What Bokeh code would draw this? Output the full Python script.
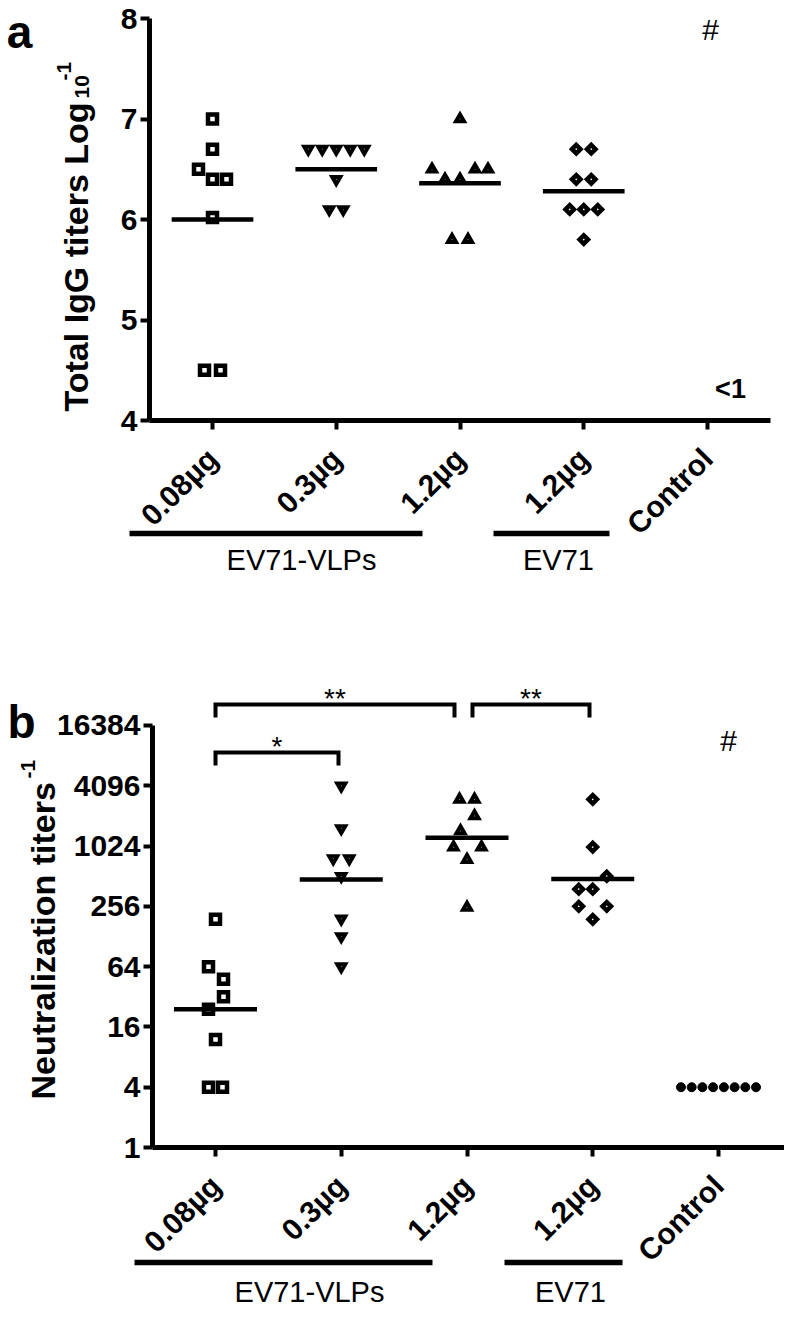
import math
from bokeh.plotting import figure
from bokeh.models import FixedTicker, PrintfTickFormatter, Label
from bokeh.layouts import column
from bokeh.embed import file_html
from bokeh.resources import INLINE

# ---------------- data ----------------
tick_labels = ["0.08\u00b5g", "0.3\u00b5g", "1.2\u00b5g", "1.2\u00b5g", "Control"]
group_names = ["EV71-VLPs", "EV71"]

# Panel a: total IgG titers (log10)
igg_g1 = [7.0, 6.7, 6.5, 6.4, 6.4, 6.02, 4.5, 4.5]
igg_g2 = [6.7, 6.7, 6.7, 6.7, 6.7, 6.4, 6.1, 6.1]
igg_g3 = [7.0, 6.5, 6.5, 6.5, 6.4, 6.4, 5.8, 5.8]
igg_g4 = [6.7, 6.7, 6.4, 6.4, 6.1, 6.1, 6.1, 5.8]
igg_means = [6.0, 6.5, 6.36, 6.28]
igg_yticks = [4, 5, 6, 7, 8]

# Panel b: neutralization titers
nt_g1 = [190, 64, 48, 32, 24, 12, 4, 4]
nt_g2 = [4096, 1536, 768, 768, 512, 192, 128, 64]
nt_g3 = [3000, 3000, 2048, 1450, 1000, 1000, 750, 250]
nt_g4 = [3000, 1000, 512, 380, 380, 256, 256, 190]
nt_ctrl = [4, 4, 4, 4, 4, 4, 4, 4]
nt_means = [24, 475, 1240, 480]
nt_yticks = [1, 4, 16, 64, 256, 1024, 4096, 16384]

# scatter layout offsets (pixels) of the points inside each column
a_dx1 = [0, 0, -14, 0, 14, 0, -8, 8]
a_dx2 = [-28, -14, 0, 14, 28, 0, -7, 7]
a_dx3 = [0, -28, 15, 28, -15, 0, -8, 8]
a_dx4 = [-7.5, 7.5, -7.5, 7.5, -14, 0, 14, 0]
b_dx1 = [0, -7, 8, 8, -7, 0, -7, 7]
b_dx2 = [0, 0, -8, 8, 0, 0, 0, 0]
b_dx3 = [-7.5, 7.5, 7.5, -6.5, -13.5, 14.5, 0, 0]
b_dx4 = [0, 0, 14, -14, 0, -14, 14, 0]
b_dxc = [-37.5, -26.8, -16.1, -5.4, 5.4, 16.1, 26.8, 37.5]

FONT = "Liberation Sans"

# page-pixel -> data helpers (for annotations / layout only)
PXA = 123.75
PXB = 125.75
def xa(px): return 1 + (px - 220) / PXA
def ya(py): return 4 + (428 - py) / 100.5
def xb(px): return 1 + (px - 223) / PXB
def yb(py): return 2 ** ((1155 - py) / 30.143)


def style_axes(p, xfix, yfix, xbounds, ybounds, yticks):
    xa_ = p.xaxis[0]
    ya_ = p.yaxis[0]
    for ax in (xa_, ya_):
        ax.axis_line_width = 5
        ax.axis_line_color = "black"
        ax.major_tick_line_width = 4
        ax.major_tick_line_color = "black"
        ax.major_tick_out = 9
        ax.major_tick_in = 0
        ax.minor_tick_line_color = None
        ax.major_label_text_font = FONT
        ax.major_label_text_font_style = "bold"
        ax.major_label_text_color = "black"
    xa_.ticker = FixedTicker(ticks=[1, 2, 3, 4, 5])
    xa_.major_label_overrides = {i + 1: t for i, t in enumerate(tick_labels)}
    xa_.major_label_orientation = math.pi / 4
    xa_.major_label_text_font_size = "30px"
    xa_.major_label_standoff = 24
    xa_.fixed_location = xfix
    xa_.bounds = xbounds
    ya_.ticker = FixedTicker(ticks=yticks)
    ya_.major_label_text_font_size = "30px"
    ya_.major_label_standoff = 3
    ya_.fixed_location = yfix
    ya_.bounds = ybounds
    p.grid.visible = False
    p.outline_line_color = None


def add_label(p, x, y, text, size, bold=False, angle=0.0, align="center", baseline="middle"):
    p.add_layout(Label(x=x, y=y, text=text, text_font=FONT, text_font_size=size,
                       text_font_style="bold" if bold else "normal", text_color="black",
                       angle=angle, text_align=align, text_baseline=baseline))


def scatter_group(p, center, values, dx, pxu, marker, size, lw, fill="white", angle=0.0,
                  join="miter"):
    xs = [center + d / pxu for d in dx]
    p.scatter(xs, values, marker=marker, size=size, fill_color=fill, line_color="black",
              line_width=lw, angle=angle, line_join=join)


# ---------------- panel a ----------------
pa = figure(width=784, height=602, x_range=(xa(8), xa(792)), y_range=(ya(610), ya(8)),
            output_backend="svg", toolbar_location=None,
            min_border_left=0, min_border_right=0, min_border_top=0, min_border_bottom=0)
style_axes(pa, 4, xa(157), (xa(157), xa(778)), (4, 8), igg_yticks)

scatter_group(pa, 1, igg_g1, a_dx1, PXA, "square", 9, 4.5)
scatter_group(pa, 2, igg_g2, a_dx2, PXA, "inverted_triangle", 8, 4)
scatter_group(pa, 3, igg_g3, a_dx3, PXA, "triangle", 8, 4)
scatter_group(pa, 4, igg_g4, a_dx4, PXA, "square", 6, 4.5, angle=math.pi / 4)
pa.segment(x0=[c - 0.33 for c in (1, 2, 3, 4)], x1=[c + 0.33 for c in (1, 2, 3, 4)],
           y0=igg_means, y1=igg_means, line_width=4.5, line_color="black")

pa.segment(x0=[xa(137), xa(501)], x1=[xa(430), xa(617)], y0=[ya(541)] * 2, y1=[ya(541)] * 2,
           line_width=5.5, line_color="black")
add_label(pa, xa(309), ya(567), group_names[0], "29px")
add_label(pa, xa(566), ya(567), group_names[1], "29px")
add_label(pa, xa(718), ya(37), "#", "30px")
add_label(pa, xa(738), ya(396), "<1", "27px", bold=True)
add_label(pa, xa(27), ya(39), "a", "46px", bold=True)
add_label(pa, xa(83), ya(419), "Total IgG titers Log", "34px", bold=True, angle=math.pi / 2,
          align="left", baseline="alphabetic")
add_label(pa, xa(89), ya(106), "10", "21px", bold=True, angle=math.pi / 2,
          align="left", baseline="alphabetic")
add_label(pa, xa(71), ya(88), "-1", "21px", bold=True, angle=math.pi / 2,
          align="left", baseline="alphabetic")

# ---------------- panel b ----------------
pb = figure(width=784, height=704, x_range=(xb(8), xb(792)), y_range=(yb(1314), yb(610)),
            y_axis_type="log", output_backend="svg", toolbar_location=None,
            min_border_left=0, min_border_right=0, min_border_top=0, min_border_bottom=0)
style_axes(pb, 1, xb(160), (xb(160), xb(792)), (1, 16384), nt_yticks)
pb.yaxis[0].formatter = PrintfTickFormatter(format="%d")

scatter_group(pb, 1, nt_g1, b_dx1, PXB, "square", 9, 4.5)
scatter_group(pb, 2, nt_g2, b_dx2, PXB, "inverted_triangle", 8, 4)
scatter_group(pb, 3, nt_g3, b_dx3, PXB, "triangle", 8, 4)
scatter_group(pb, 4, nt_g4, b_dx4, PXB, "square", 6, 4.5, angle=math.pi / 4)
scatter_group(pb, 5, nt_ctrl, b_dxc, PXB, "circle", 9, 1, fill="black", join="round")
pb.segment(x0=[c - 0.33 for c in (1, 2, 3, 4)], x1=[c + 0.33 for c in (1, 2, 3, 4)],
           y0=nt_means, y1=nt_means, line_width=4.5, line_color="black")

# significance brackets
brackets = [(xb(223), xb(346), yb(760), yb(773), "*"),
            (xb(223), xb(462), yb(712), yb(725), "**"),
            (xb(480), xb(597), yb(712), yb(725), "**")]
for x0, x1, ytop, yleg, star in brackets:
    pb.line([x0, x0, x1, x1], [yleg, ytop, ytop, yleg], line_width=4, line_color="black",
            line_join="miter")
    ytxt = 2 ** (math.log2(ytop) + 6 / 30.143)
    add_label(pb, (x0 + x1) / 2, ytxt, star, "28px", baseline="alphabetic")

pb.segment(x0=[xb(142), xb(512)], x1=[xb(440), xb(630)], y0=[yb(1270)] * 2, y1=[yb(1270)] * 2,
           line_width=5.5, line_color="black")
add_label(pb, xb(317), yb(1299), group_names[0], "29px")
add_label(pb, xb(578), yb(1299), group_names[1], "29px")
add_label(pb, xb(736), yb(748), "#", "30px")
add_label(pb, xb(29), yb(729), "b", "46px", bold=True)
add_label(pb, xb(50), yb(1107), "Neutralization titers", "34px", bold=True, angle=math.pi / 2,
          align="left", baseline="alphabetic")
add_label(pb, xb(35), yb(786), "-1", "21px", bold=True, angle=math.pi / 2,
          align="left", baseline="alphabetic")

layout = column(pa, pb, spacing=0)
open("out.html", "w").write(file_html(layout, INLINE))
